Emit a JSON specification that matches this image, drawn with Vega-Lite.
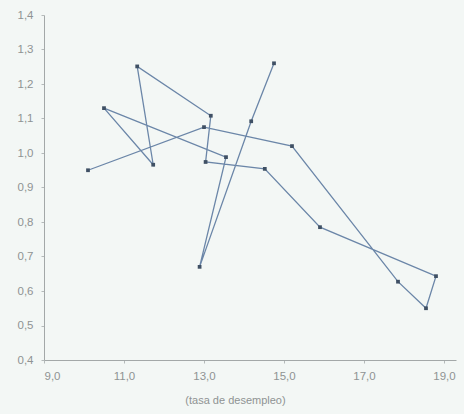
{
  "$schema": "https://vega.github.io/schema/vega-lite/v6.json",
  "width": 412,
  "height": 345,
  "autosize": {"type": "none"},
  "padding": {"left": 44, "top": 15, "right": 8, "bottom": 54},
  "background": "#f3f7f5",
  "config": {
    "view": {"stroke": null},
    "font": "Liberation Sans",
    "axis": {
      "grid": false,
      "domainColor": "#a3a8a8",
      "tickColor": "#b5baba",
      "tickSize": 3,
      "labelColor": "#8f9393",
      "labelFontSize": 11.5,
      "titleColor": "#8f9393",
      "titleFontSize": 11,
      "titleFontWeight": "normal"
    }
  },
  "data": {
    "values": [
      {"orden": 1, "desempleo": 10.1, "valor": 0.95},
      {"orden": 2, "desempleo": 13.0, "valor": 1.075},
      {"orden": 3, "desempleo": 15.2, "valor": 1.02},
      {"orden": 4, "desempleo": 17.85, "valor": 0.627},
      {"orden": 5, "desempleo": 18.55, "valor": 0.55},
      {"orden": 6, "desempleo": 18.8, "valor": 0.643},
      {"orden": 7, "desempleo": 15.9, "valor": 0.785},
      {"orden": 8, "desempleo": 14.52, "valor": 0.954},
      {"orden": 9, "desempleo": 13.04, "valor": 0.974},
      {"orden": 10, "desempleo": 13.17, "valor": 1.108},
      {"orden": 11, "desempleo": 11.33, "valor": 1.251},
      {"orden": 12, "desempleo": 11.73, "valor": 0.966},
      {"orden": 13, "desempleo": 10.5, "valor": 1.13},
      {"orden": 14, "desempleo": 13.55, "valor": 0.988},
      {"orden": 15, "desempleo": 12.89, "valor": 0.67},
      {"orden": 16, "desempleo": 14.18, "valor": 1.092},
      {"orden": 17, "desempleo": 14.75, "valor": 1.26}
    ]
  },
  "encoding": {
    "x": {
      "field": "desempleo",
      "type": "quantitative",
      "scale": {"domain": [9, 19.3], "nice": false, "zero": false},
      "axis": {
        "values": [9, 11, 13, 15, 17, 19],
        "labelExpr": "replace(format(datum.value, '.1f'), '.', ',')",
        "title": "(tasa de desempleo)",
        "titleX": 191,
        "titleAlign": "center",
        "titlePadding": 13,
        "labelPadding": 7
      }
    },
    "y": {
      "field": "valor",
      "type": "quantitative",
      "scale": {"domain": [0.4, 1.4], "nice": false, "zero": false},
      "axis": {
        "values": [0.4, 0.5, 0.6, 0.7, 0.8, 0.9, 1.0, 1.1, 1.2, 1.3, 1.4],
        "labelExpr": "replace(format(datum.value, '.1f'), '.', ',')",
        "title": null,
        "labelPadding": 8
      }
    }
  },
  "layer": [
    {
      "mark": {"type": "line", "color": "#6b86a8", "strokeWidth": 1.3},
      "encoding": {"order": {"field": "orden", "type": "quantitative"}}
    },
    {
      "mark": {"type": "square", "color": "#3f5064", "filled": true, "size": 14, "opacity": 1}
    }
  ]
}
